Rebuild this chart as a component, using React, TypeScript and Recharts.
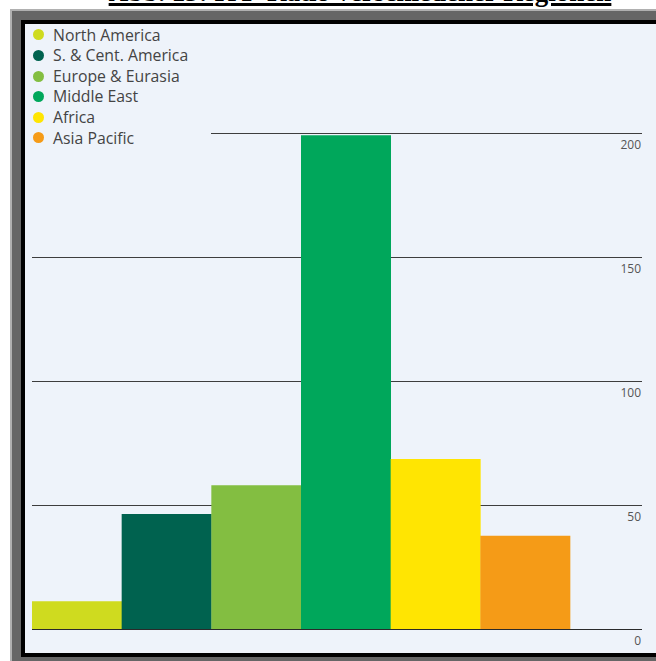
import React from "react";
import { BarChart, Bar, XAxis, YAxis, CartesianGrid, Cell, Legend, ReferenceLine } from "recharts";

const regions = ["North America", "S. & Cent. America", "Europe & Eurasia", "Middle East", "Africa", "Asia Pacific"];
const rpRatio = [11.4, 46.6, 58.2, 199.3, 68.7, 37.8];
const regionColors = ["#cfdb1f", "#00624f", "#83be41", "#00a75b", "#ffe502", "#f59b17"];
const yTicks = [0, 50, 100, 150, 200];

const data = regions.map((name, i) => ({ name, ratio: rpRatio[i] }));

const BG = "#eef3fa";

function RegionLegend() {
  return (
    <div style={{ background: BG, paddingTop: 0.6 }}>
      {regions.map((r, i) => (
        <div key={r} style={{ display: "flex", alignItems: "center", height: 20.6, lineHeight: "20.6px" }}>
          <span style={{ width: 11, height: 11, borderRadius: "50%", background: regionColors[i], marginLeft: 7, marginRight: 9, flex: "none" }} />
          <span style={{ fontFamily: "'Open Sans', sans-serif", fontSize: 15.8, color: "#444", whiteSpace: "nowrap" }}>{r}</span>
        </div>
      ))}
    </div>
  );
}

// value labels sit under each grid line, right-aligned at the plot edge
const renderValueTick = (props: any) => {
  const { x, y, payload } = props;
  return (
    <text x={x - 1} y={y + 15} textAnchor="end" fontSize={12} fontFamily="'Open Sans', sans-serif" fill="#555">
      {payload.value}
    </text>
  );
};

export default function App() {
  return (
    <div style={{ position: "absolute", left: 0, top: 0, width: 656, height: 661, overflow: "hidden", background: "#fff" }}>
      <div
        style={{
          position: "absolute", left: 30, width: 660, top: -20.6, textAlign: "center", whiteSpace: "nowrap",
          fontFamily: "'Liberation Serif', serif", fontWeight: "bold", fontSize: 27, lineHeight: "27px",
          textDecoration: "underline", textDecorationThickness: 2.5, textUnderlineOffset: 2, color: "#000",
        }}
      >
        Abb. 13: R/P-Ratio verschiedener Regionen
      </div>
      {/* picture frame */}
      <div style={{ position: "absolute", left: 10, top: 9, width: 700, height: 652, background: "#b0b0b0", padding: "2px 0 0 2px", boxSizing: "border-box" }}>
        <div style={{ width: "100%", height: "100%", background: "#666", padding: "9px 0 4px 9px", boxSizing: "border-box" }}>
          <div style={{ width: "100%", height: "100%", border: "4px solid #000", background: BG, boxSizing: "border-box" }} />
        </div>
      </div>
      <div style={{ position: "absolute", left: 0, top: 0 }}>
        <BarChart width={656} height={661} data={data} barCategoryGap={0} margin={{ top: 133.5, right: 13, bottom: 31.5, left: 32 }}>
          <CartesianGrid vertical={false} stroke="#3d3d3d" strokeWidth={1} />
          <XAxis dataKey="name" hide padding={{ left: 0, right: 72 }} />
          <YAxis
            orientation="right"
            width={1}
            domain={[0, 200]}
            ticks={yTicks}
            axisLine={false}
            tickLine={false}
            tickSize={0}
            tickMargin={0}
            tick={renderValueTick}
          />
          <Bar dataKey="ratio" isAnimationActive={false}>
            {data.map((d, i) => (
              <Cell key={d.name} fill={regionColors[i]} />
            ))}
          </Bar>
          <ReferenceLine y={0} stroke="#2a2a2a" strokeWidth={1} />
          <Legend
            layout="horizontal"
            verticalAlign="middle"
            align="center"
            wrapperStyle={{ left: 26, top: 24, width: 185, height: 126 }}
            content={() => <RegionLegend />}
          />
        </BarChart>
      </div>
    </div>
  );
}
